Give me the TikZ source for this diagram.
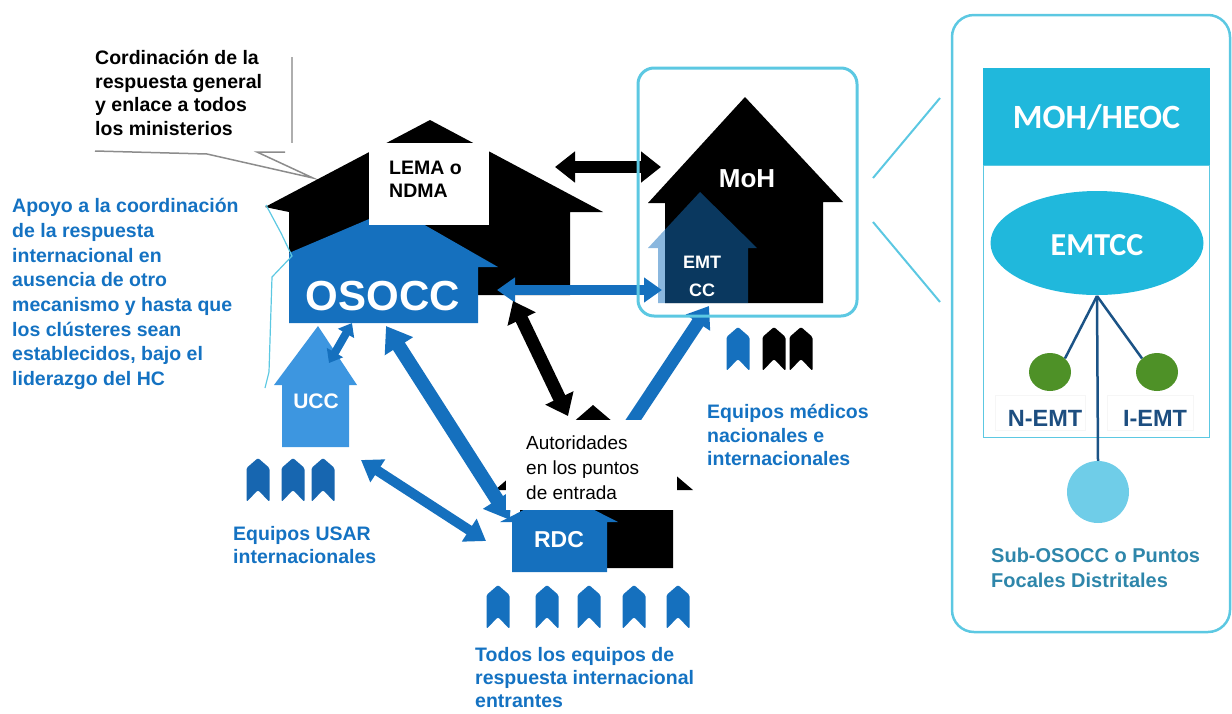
\documentclass[tikz,border=0pt]{standalone}
\usepackage{fontspec}
\setmainfont{Liberation Sans}
\newfontfamily\calib{Carlito}
\usetikzlibrary{arrows.meta,shapes.geometric}
\definecolor{tblue}{HTML}{1472C2}
\definecolor{hblue}{HTML}{1570BE}
\definecolor{ublue}{HTML}{3D96E0}
\definecolor{teamblue}{HTML}{1766B0}
\definecolor{cyanline}{HTML}{5CC8E2}
\definecolor{cyanfill}{HTML}{20B8DC}
\definecolor{lcyan}{HTML}{6FCDE8}
\definecolor{dgreen}{HTML}{4E9127}
\definecolor{conn}{HTML}{1B5386}
\definecolor{tealtxt}{HTML}{2E86AA}
\definecolor{emtlbl}{HTML}{1D4E80}
\definecolor{gline}{HTML}{8C8C8C}
\tikzset{
  lbl/.style={font=\bfseries\fontsize{19.5}{23.5}\selectfont, align=left, anchor=west, inner sep=0pt},
  bluelbl/.style={lbl, text=tblue},
  htxt/.style={font=\bfseries\fontsize{#1}{#1}\selectfont, text=white, inner sep=0pt},
  blkarrow/.style={draw=black, line width=12pt, {Triangle[length=20pt,width=30pt]}-{Triangle[length=20pt,width=30pt]}},
  bluarrow/.style={draw=hblue, line width=#1, {Triangle[length=20pt,width=28pt]}-{Triangle[length=20pt,width=28pt]}},
  team/.pic={\fill[#1, rounded corners=1.5pt] (0,0) -- (11.5,10) -- (11.5,44) -- (0,32) -- (-11.5,44) -- (-11.5,10) -- cycle;},
  calname/.style={font=\calib\bfseries\fontsize{#1}{#1}\selectfont, text=white, inner sep=0pt}
}
\begin{document}
\begin{tikzpicture}[x=1pt,y=-1pt]
\useasboundingbox (0,0) rectangle (1232,713);

% callout
\draw[gline, line width=1.5pt] (95,151) -- (207,154) -- (313,178) -- (257,152) -- (285,152);
\draw[gline!70, line width=1.5pt] (292,57) -- (292,143);
\node[lbl] (callout) at (95,93) {Cordinación de la\\respuesta general\\y enlace a todos\\los ministerios};

% left blue text
\node[bluelbl, font=\bfseries\fontsize{19.5}{24.7}\selectfont] (apoyo) at (12,294) {Apoyo a la coordinación\\de la respuesta\\internacional en\\ausencia de otro\\mecanismo y hasta que\\los clústeres sean\\establecidos, bajo el\\liderazgo del HC};

% LEMA black house
\fill[black] (265,207) -- (430,120) -- (603,212) -- (570,212) -- (570,295) -- (289,295) -- (289,212) -- cycle;
% OSOCC blue house
\fill[hblue] (289,253) -- (395,208) -- (498,267) -- (478,267) -- (478,323) -- (289,323) -- cycle;
\node[htxt=42] (osocc) at (383,296) {OSOCC};
% LEMA box
\node[fill=white, minimum width=120pt, minimum height=82pt, inner sep=0pt] (lemabox) at (429,184) {};
\node[lbl, font=\bfseries\fontsize{19.5}{23}\selectfont] (lema) at (389,179) {LEMA o\\NDMA};

% MoH house
\fill[black] (648,203) -- (745,97) -- (843,202) -- (823,202) -- (823,303) -- (665,303) -- (665,203) -- cycle;
\node[htxt=26] (moh) at (747,179) {MoH};
\fill[hblue, fill opacity=0.5] (648,248) -- (700,192) -- (757,248) -- (748,248) -- (748,303) -- (658,303) -- (658,248) -- cycle;
\node[htxt=18, align=center, font=\bfseries\fontsize{18}{28}\selectfont] (emtcc) at (702,276) {EMT\\CC};

% RDC houses
\fill[black] (495,490) -- (593,405) -- (693,490) -- (673,490) -- (673,568) -- (520,568) -- (520,490) -- cycle;
\fill[hblue] (500,522) -- (559,492) -- (618,522) -- (607,522) -- (607,572) -- (512,572) -- (512,522) -- cycle;
\node[htxt=23] (rdc) at (559,540) {RDC};

% UCC house
\fill[ublue] (318,326) -- (357,385) -- (349,385) -- (349,447) -- (282,447) -- (282,385) -- (274,385) -- cycle;
\node[htxt=21] (ucc) at (316,401) {UCC};

% arrow end points
\coordinate (lmA) at (555,167);
\coordinate (lmB) at (661,167);
\coordinate (oeA) at (497,290);
\coordinate (oeB) at (662,290);
\coordinate (lrA) at (513,301);
\coordinate (lrB) at (568,416);
\coordinate (reA) at (620,440);
\coordinate (reB) at (709,306);
\coordinate (orA) at (386,326);
\coordinate (orB) at (510,520);
\coordinate (ouA) at (352,323);
\coordinate (ouB) at (329,363);
\coordinate (urA) at (361,460);
\coordinate (urB) at (486,541);

% arrows
\draw[blkarrow] (lmA) -- (lmB);
\draw[bluarrow=10pt, {Triangle[length=18pt,width=24pt]}-{Triangle[length=18pt,width=24pt]}] (oeA) -- (oeB);
\draw[blkarrow, line width=13pt] (lrA) -- (lrB);
\draw[draw=hblue, line width=13pt, -{Triangle[length=20pt,width=28pt]}] (reA) -- (reB);
\draw[bluarrow=14pt, {Triangle[length=24pt,width=32pt]}-{Triangle[length=24pt,width=32pt]}] (orA) -- (orB);
\draw[bluarrow=8pt, {Triangle[length=12pt,width=18pt]}-{Triangle[length=12pt,width=18pt]}] (ouA) -- (ouB);
\draw[bluarrow=10pt, {Triangle[length=20pt,width=26pt]}-{Triangle[length=20pt,width=26pt]}] (urA) -- (urB);

% Autoridades box
\node[fill=white, minimum width=171pt, minimum height=90pt, inner sep=0pt] (autbox) at (591.5,465) {};
\node[lbl, font=\fontsize{19}{25}\selectfont] (aut) at (526,468) {Autoridades\\en los puntos\\de entrada};

% MoH outline
\draw[cyanline, line width=3pt, rounded corners=16pt] (638,68) rectangle (857,316);

% teams
\pic at (258,458) {team=teamblue};
\pic at (293,458) {team=teamblue};
\pic at (323,458) {team=teamblue};
\foreach \tx in {498,547,589,634,678} \pic at (\tx,585) {team=hblue};
\pic at (738,327) {team=hblue};
\pic at (774,327) {team=black};
\pic at (801,327) {team=black};

% blue labels
\node[bluelbl] (usar) at (233,545) {Equipos USAR\\internacionales};
\node[bluelbl] (medicos) at (707,435) {Equipos médicos\\nacionales e\\internacionales};
\node[bluelbl, font=\bfseries\fontsize{19.5}{23}\selectfont] (todos) at (475,678) {Todos los equipos de\\respuesta internacional\\entrantes};

% thin bracket line
\draw[cyanline, line width=1.2pt] (266,205) -- (281,233) -- (292,256) -- (272,277) -- (269,372) -- (265,388);

% link lines
\coordinate (k1) at (873,178);
\coordinate (k2) at (940,98);
\coordinate (k3) at (873,222);
\coordinate (k4) at (940,302);
\draw[cyanline, line width=2pt] (k1) -- (k2);
\draw[cyanline, line width=2pt] (k3) -- (k4);

% right panel
\draw[cyanline, line width=2.5pt, rounded corners=22pt] (952,15) rectangle (1230,632);
\node[fill=cyanfill, minimum width=227pt, minimum height=97pt, inner sep=0pt] (heocbox) at (1096.5,116.5) {};
\node[calname=34] (heoc) at (1096.5,117) {MOH/HEOC};
\draw[cyanline, line width=1pt] (983,165) rectangle (1209,437);
\node[ellipse, fill=cyanfill, minimum width=213pt, minimum height=104pt, inner sep=0pt] (emtccell) at (1097,243) {};
\node[calname=32] (emtcctxt) at (1097,245) {EMTCC};
\draw[gray!7, line width=0.8pt] (995,395) rectangle (1085,430);
\draw[gray!7, line width=0.8pt] (1107,395) rectangle (1193,430);
\node[ellipse, fill=dgreen, minimum width=42pt, minimum height=38pt, inner sep=0pt] (nemtc) at (1050,372) {};
\node[ellipse, fill=dgreen, minimum width=42pt, minimum height=38pt, inner sep=0pt] (iemtc) at (1157,372) {};
\node[circle, fill=lcyan, minimum size=62pt, inner sep=0pt] (subc) at (1098,492) {};
\coordinate (hub) at (1097,296);
\draw[conn, line width=2.5pt] (hub) -- (nemtc.north east);
\draw[conn, line width=2.5pt] (hub) -- (iemtc.north west);
\draw[conn, line width=2.5pt] (hub) -- (subc.north);
\node[font=\bfseries\fontsize{23.5}{23.5}\selectfont, text=emtlbl, inner sep=0pt] (nemt) at (1045,418) {N-EMT};
\node[font=\bfseries\fontsize{23.5}{23.5}\selectfont, text=emtlbl, inner sep=0pt] (iemt) at (1155,418) {I-EMT};
\node[lbl, text=tealtxt, font=\bfseries\fontsize{20}{25}\selectfont] (sub) at (991,568) {Sub-OSOCC o Puntos\\Focales Distritales};
\end{tikzpicture}
\end{document}
